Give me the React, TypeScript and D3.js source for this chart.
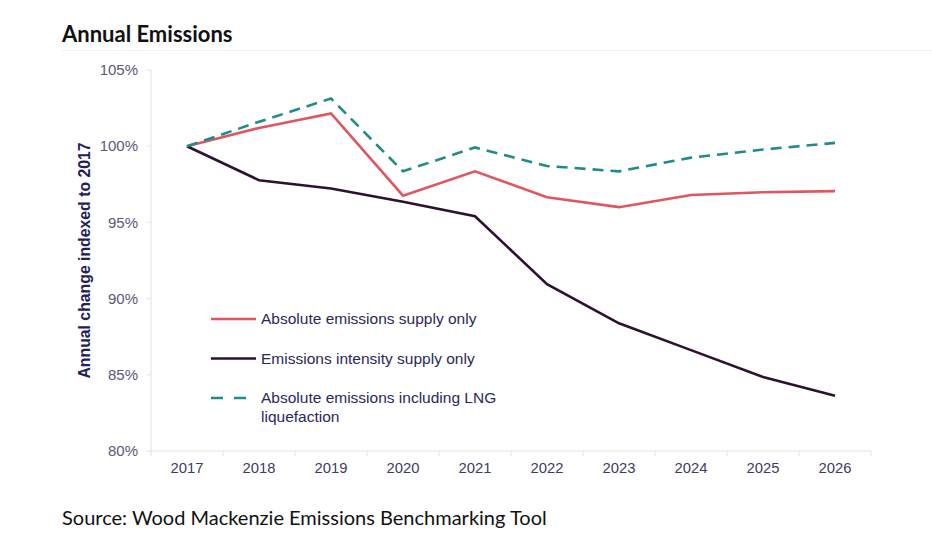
import * as d3 from 'd3'

const years = ['2017', '2018', '2019', '2020', '2021', '2022', '2023', '2024', '2025', '2026']
const absoluteSupply = [100, 101.2, 102.15, 96.75, 98.35, 96.65, 96.0, 96.8, 96.98, 97.05]
const intensitySupply = [100, 97.77, 97.22, 96.35, 95.4, 90.95, 88.38, 86.62, 84.86, 83.63]
const absoluteLng = [100, 101.6, 103.13, 98.35, 99.92, 98.7, 98.35, 99.25, 99.78, 100.22]
const yTicks = [80, 85, 90, 95, 100, 105]

const series = [
  { name: ['Absolute emissions supply only'], values: absoluteSupply, color: '#e0555f', dash: '' },
  { name: ['Emissions intensity supply only'], values: intensitySupply, color: '#2e1131', dash: '' },
  { name: ['Absolute emissions including LNG', 'liquefaction'], values: absoluteLng, color: '#1f8c8a', dash: '11,7' },
]

const width = 932
const height = 553
const margin = { top: 70, right: 61, bottom: 102, left: 151 }

export default function App() {
  const x = d3
    .scaleBand<string>()
    .domain(years)
    .range([margin.left, width - margin.right])
    .padding(0)
  const y = d3.scaleLinear([80, 105], [height - margin.bottom, margin.top])
  const cx = (i: number) => (x(years[i]) ?? 0) + x.bandwidth() / 2
  const line = d3.line<number>((d, i) => cx(i), (d) => y(d))
  const tickFont = 'Arial, "Liberation Sans", sans-serif'

  return (
    <div style={{ position: 'fixed', left: 0, top: 0 }}>
      <svg width={width} height={height} style={{ display: 'block', background: '#fff' }}>
        <text x={62} y={42} fontFamily='Lato, "Open Sans", sans-serif' fontWeight="bold" fontSize={22} fill="#111">
          Annual Emissions
        </text>
        <line x1={62} x2={width} y1={50.5} y2={50.5} stroke="#f0f0f0" />

        {/* y axis */}
        <line x1={margin.left} x2={margin.left} y1={y(105)} y2={y(80)} stroke="#e2e2e2" />
        {yTicks.map((t) => (
          <g key={t}>
            <line x1={margin.left - 4} x2={margin.left} y1={y(t)} y2={y(t)} stroke="#e2e2e2" />
            <text
              x={margin.left - 13}
              y={y(t)}
              dy="0.35em"
              textAnchor="end"
              fontFamily={tickFont}
              fontSize={15}
              fill="#5a5878"
            >
              {t}%
            </text>
          </g>
        ))}
        <text
          transform={`translate(90,${(y(105) + y(80)) / 2}) rotate(-90)`}
          textAnchor="middle"
          fontFamily={tickFont}
          fontWeight="bold"
          fontSize={15.8}
          fill="#22205a"
        >
          Annual change indexed to 2017
        </text>

        {/* x axis */}
        <line
          x1={margin.left}
          x2={width - margin.right}
          y1={y(80)}
          y2={y(80)}
          stroke="#e2e2e2"
        />
        {years.map((yr, i) => (
          <g key={yr}>
            <line
              x1={x(yr)}
              x2={x(yr)}
              y1={y(80)}
              y2={y(80) + 5}
              stroke="#e2e2e2"
            />
            <text
              x={cx(i)}
              y={y(80) + 22}
              textAnchor="middle"
              fontFamily={tickFont}
              fontSize={14.8}
              fill="#3e3c66"
            >
              {yr}
            </text>
          </g>
        ))}
        <line
          x1={width - margin.right}
          x2={width - margin.right}
          y1={y(80)}
          y2={y(80) + 5}
          stroke="#e2e2e2"
        />

        {/* lines */}
        {series.map((s) => (
          <path
            key={s.name[0]}
            d={line(s.values) ?? undefined}
            fill="none"
            stroke={s.color}
            strokeWidth={2.6}
            strokeDasharray={s.dash || undefined}
            strokeLinejoin="miter"
          />
        ))}

        {/* legend */}
        {series.map((s, i) => {
          const ly = 319 + i * 39.5
          return (
            <g key={s.name[0]}>
              <line
                x1={211}
                x2={256}
                y1={ly}
                y2={ly}
                stroke={s.color}
                strokeWidth={2.6}
                strokeDasharray={s.dash ? '12,11' : undefined}
              />
              {s.name.map((n, j) => (
                <text
                  key={n}
                  x={261}
                  y={ly + j * 19}
                  dy="0.35em"
                  fontFamily={tickFont}
                  fontSize={15.5}
                  fill="#2a285a"
                >
                  {n}
                </text>
              ))}
            </g>
          )
        })}

        <text x={62} y={525} fontFamily='Lato, "Open Sans", sans-serif' fontSize={20} fill="#111">
          Source: Wood Mackenzie Emissions Benchmarking Tool
        </text>
      </svg>
    </div>
  )
}
